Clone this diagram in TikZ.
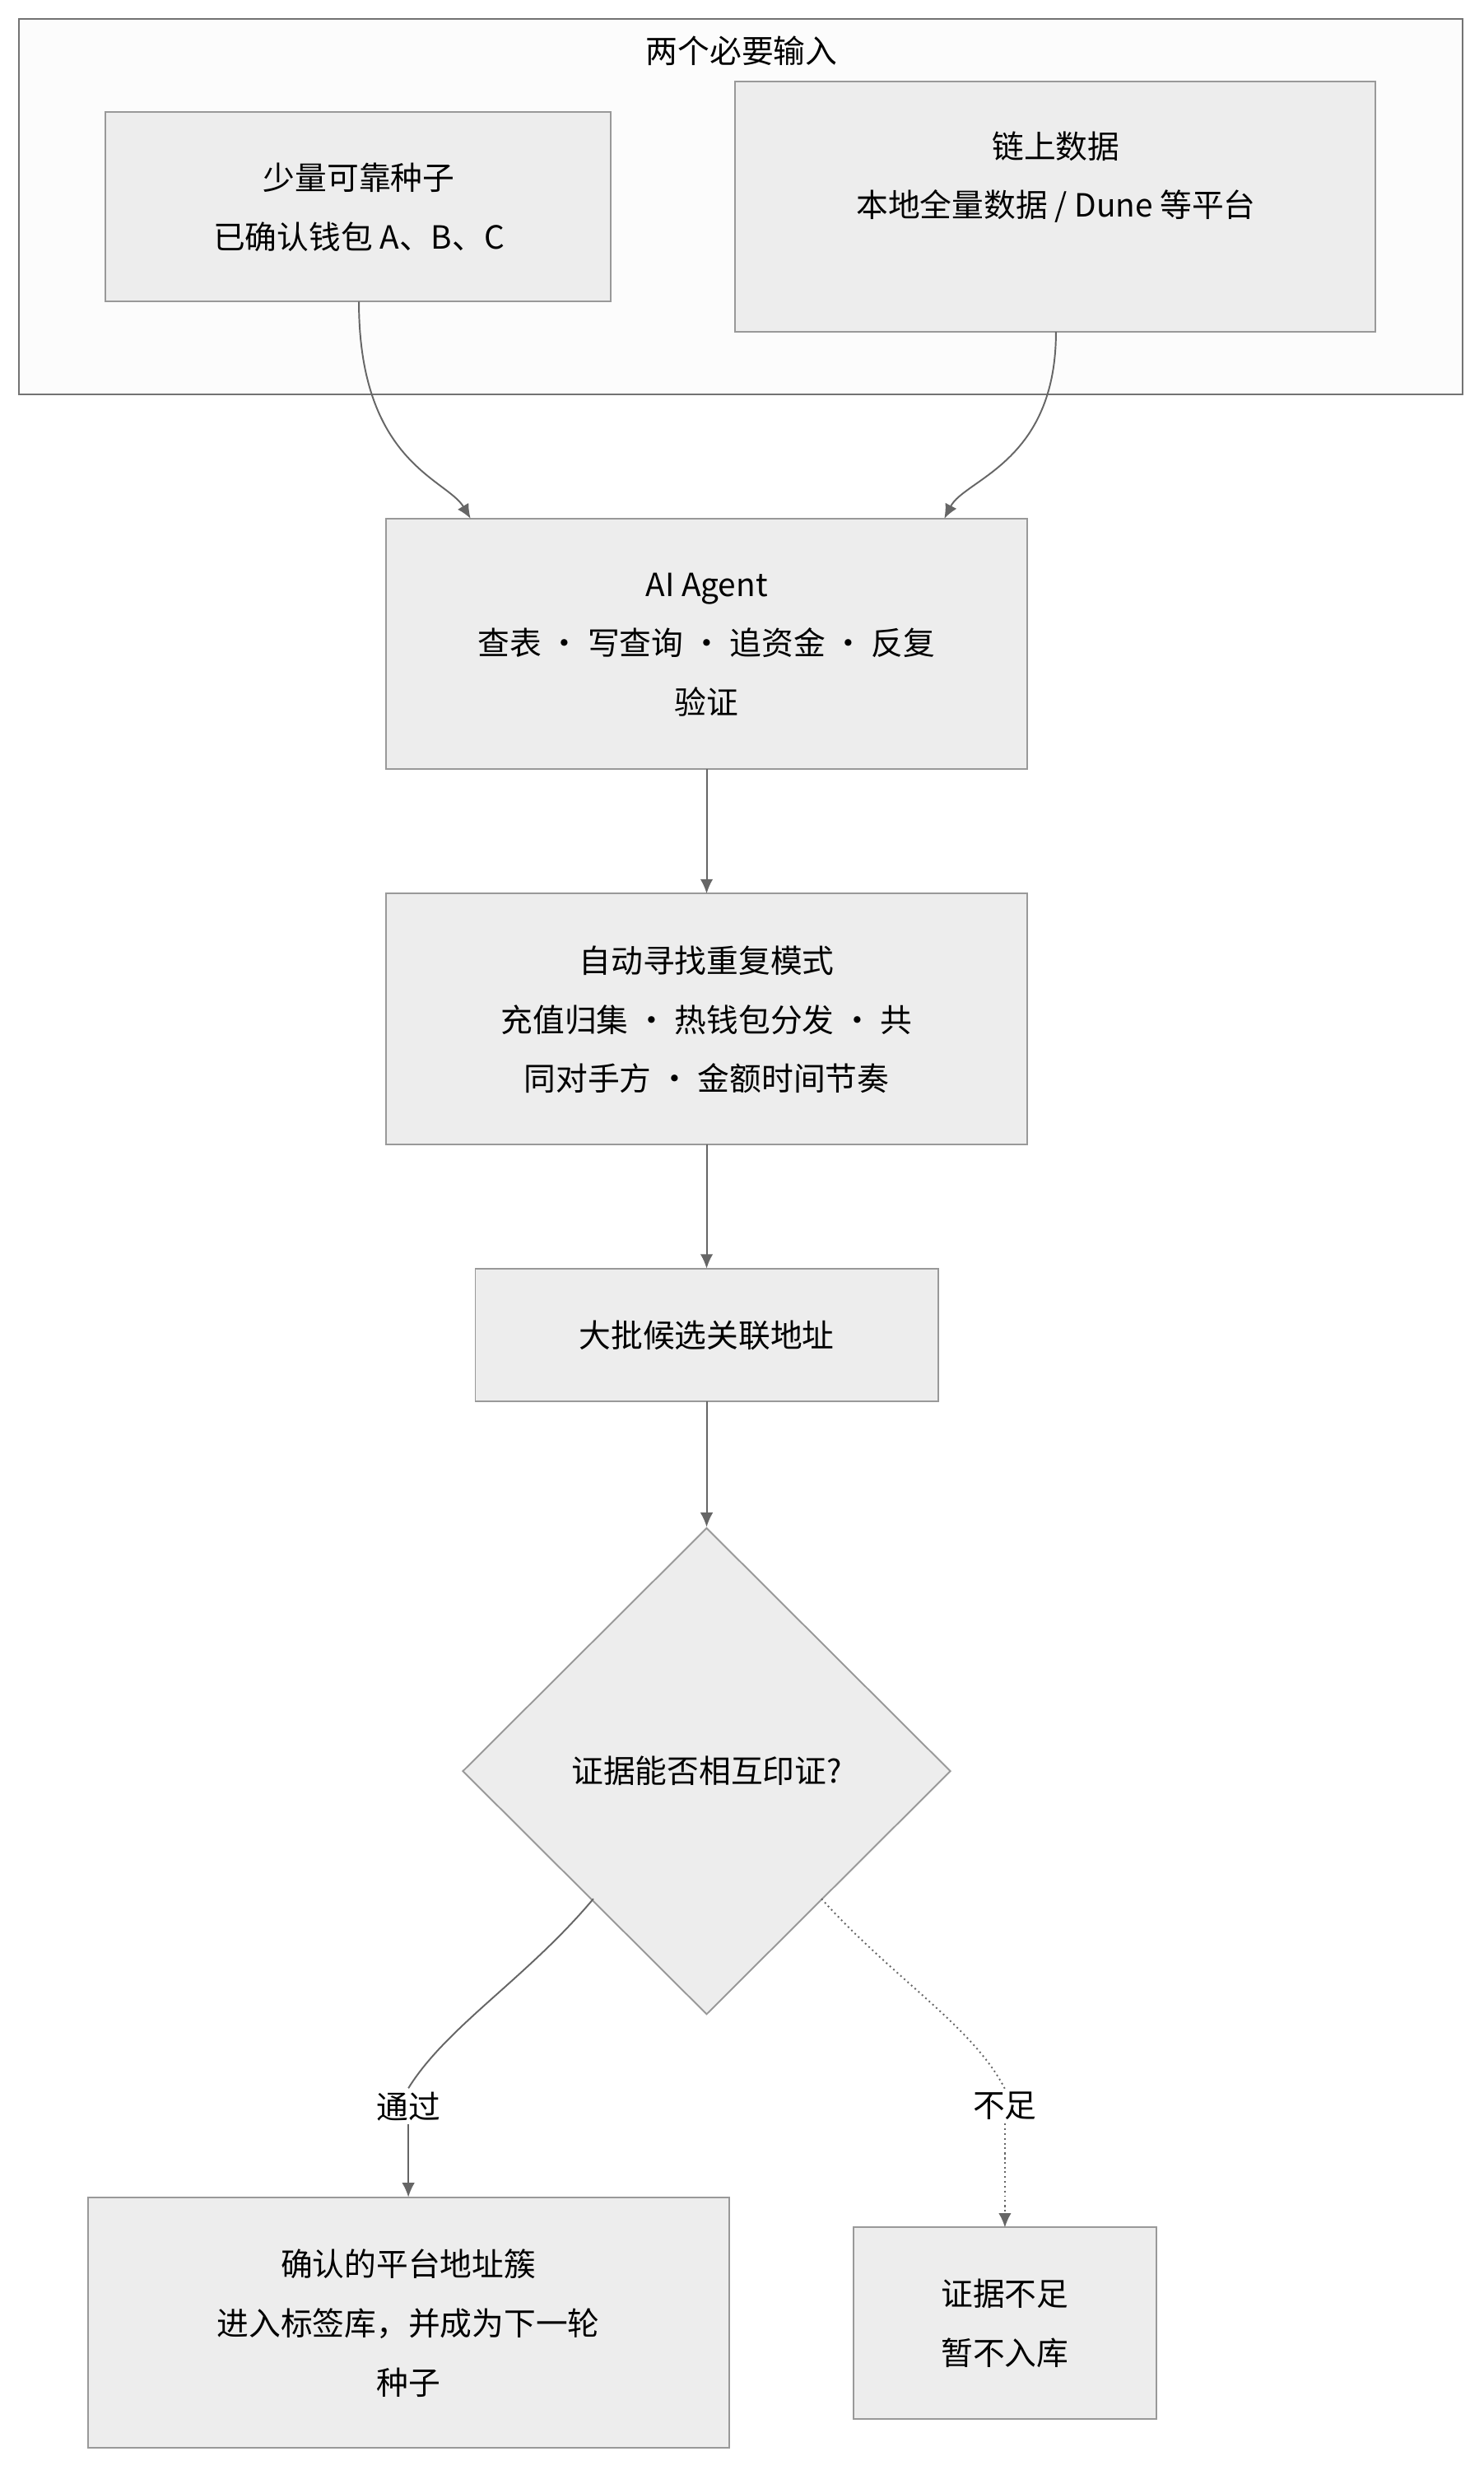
\documentclass[tikz,border=0pt]{standalone}
\usepackage{fontspec}
\setmainfont{Noto Sans CJK SC}
\usetikzlibrary{shapes.geometric,arrows.meta}
\begin{document}
\begin{tikzpicture}[x=1pt,y=-1pt,
  box/.style={draw=black!40,fill=black!7,line width=1pt},
  txt/.style={align=center,font=\fontsize{20}{37}\selectfont},
  edge/.style={draw=black!60,line width=1pt,-{Latex[length=9pt,width=8pt]}}]
\useasboundingbox (0,0) rectangle (930,1548);
\draw[draw=black!55,fill=black!1,line width=1pt] (12,12) rectangle (917,247);
\node[txt] (title) at (465,32) {两个必要输入};
\draw[box] (66,70) rectangle (383,189); \node[txt] (b1) at (225,130) {少量可靠种子\\已确认钱包 A、B、C};
\coordinate (b1s) at (225,189);
\draw[box] (461,51) rectangle (862,208); \node[txt] (b2) at (662,111) {链上数据\\本地全量数据 / Dune 等平台};
\coordinate (b2s) at (662,208);
\draw[box] (242,325) rectangle (644,482); \node[txt] (ai) at (443,404) {AI Agent\\查表 · 写查询 · 追资金 · 反复\\验证};
\coordinate (ait1) at (295,325); \coordinate (ait2) at (592,325);
\coordinate (ais) at (443,482); \coordinate (aut) at (443,560);
\draw[box] (242,560) rectangle (644,717); \node[txt] (auto) at (443,639) {自动寻找重复模式\\充值归集 · 热钱包分发 · 共\\同对手方 · 金额时间节奏};
\coordinate (aus) at (443,717); \coordinate (cat) at (443,795);
\draw[box] (298,795) rectangle (588,878); \node[txt] (cand) at (443,837) {大批候选关联地址};
\coordinate (cas) at (443,878);
\node[box,diamond,minimum width=306pt,minimum height=305pt,inner sep=0pt] (dec) at (443,1110) {};
\node[txt] at (dec) {证据能否相互印证?};
\draw[box] (55,1377) rectangle (457,1534); \node[txt] (ok) at (256,1456) {确认的平台地址簇\\进入标签库，并成为下一轮\\种子};
\draw[box] (535,1396) rectangle (725,1516); \node[txt] (no) at (630,1456) {证据不足\\暂不入库};
\coordinate (okt) at (256,1377); \coordinate (not) at (630,1396);
\node[txt,fill=white,inner sep=2pt] (l1) at (256,1320) {通过};
\node[txt,fill=white,inner sep=2pt] (l2) at (630,1320) {不足};
\draw[edge] (b1s) .. controls (225,290) and (280,300) .. (ait1);
\draw[edge] (b2s) .. controls (662,290) and (605,300) .. (ait2);
\draw[edge] (ais) -- (aut);
\draw[edge] (aus) -- (cat);
\draw[edge] (cas) -- (dec.north);
\draw[draw=black!60,line width=1pt] (372,1190) .. controls (330,1240) and (280,1270) .. (l1.north);
\draw[edge] (l1.south) .. controls (256,1350) .. (okt);
\draw[draw=black!60,line width=1pt,dotted] (515,1190) .. controls (560,1240) and (610,1270) .. (l2.north);
\draw[edge,dotted] (l2.south) .. controls (630,1360) .. (not);
\end{tikzpicture}
\end{document}
